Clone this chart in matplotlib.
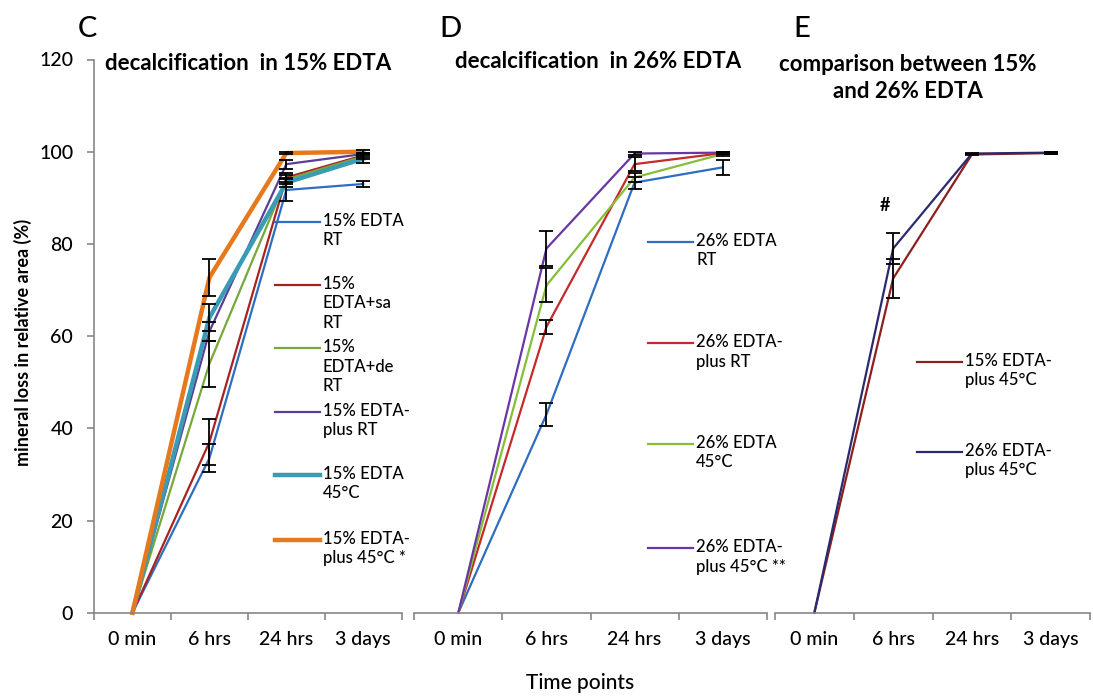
import matplotlib
matplotlib.use("Agg")
import matplotlib.pyplot as plt
from matplotlib.lines import Line2D

plt.rcParams['font.family'] = ['Lato', 'DejaVu Sans']
plt.rcParams['font.weight'] = 'medium'

# ---------------- data ----------------
time_points = ["0 min", "6 hrs", "24 hrs", "3 days"]
y_ticks = [0, 20, 40, 60, 80, 100, 120]

# Panel C: decalcification in 15% EDTA
c_labels = ["15% EDTA\nRT", "15%\nEDTA+sa\nRT", "15%\nEDTA+de\nRT",
            "15% EDTA-\nplus RT", "15% EDTA\n45°C", "15% EDTA-\nplus 45°C *"]
c_rt = [0, 33.5, 91.7, 93.0]
c_rt_err = [0, 3.0, 2.3, 0.7]
c_sa = [0, 37.0, 94.4, 99.2]
c_sa_err = [0, 5.0, 1.0, 0.4]
c_de = [0, 54.0, 94.0, 99.0]
c_de_err = [0, 5.0, 1.0, 0.5]
c_plus_rt = [0, 61.0, 97.3, 99.5]
c_plus_rt_err = [0, 2.0, 1.0, 0.3]
c_45 = [0, 64.0, 93.3, 98.5]
c_45_err = [0, 3.0, 1.0, 1.0]
c_plus_45 = [0, 72.7, 99.7, 100.0]
c_plus_45_err = [0, 4.0, 0.3, 0.3]

# Panel D: decalcification in 26% EDTA
d_labels = ["26% EDTA\nRT", "26% EDTA-\nplus RT", "26% EDTA\n45°C", "26% EDTA-\nplus 45°C **"]
d_rt = [0, 43.0, 93.3, 96.6]
d_rt_err = [0, 2.5, 1.3, 1.6]
d_plus_rt = [0, 62.0, 97.3, 99.7]
d_plus_rt_err = [0, 1.5, 1.5, 0.3]
d_45 = [0, 71.0, 94.4, 99.5]
d_45_err = [0, 3.7, 1.0, 0.5]
d_plus_45 = [0, 79.0, 99.6, 99.8]
d_plus_45_err = [0, 3.8, 0.3, 0.2]

# Panel E: comparison between 15% and 26% EDTA
e_labels = ["15% EDTA-\nplus 45°C", "26% EDTA-\nplus 45°C"]
e_15 = [0, 72.5, 99.4, 99.7]
e_15_err = [0, 4.2, 0.2, 0.2]
e_26 = [0, 79.0, 99.6, 99.8]
e_26_err = [0, 3.4, 0.2, 0.2]

# ---------------- figure ----------------
W, H = 1093, 697
fig = plt.figure(figsize=(W / 100, H / 100), dpi=100)
AX_COL = '#868686'
FONT = 14


def fx(px):
    return px / W


def fy(py):
    return 1 - py / H


def make_axes(x0, x1, show_y):
    ytop, ybot = 59.5, 612.7
    ax = fig.add_axes([fx(x0), fy(ybot), fx(x1 - x0), (ybot - ytop) / H])
    ax.set_xlim(-0.5, 3.5)
    ax.set_ylim(0, 120)
    for s in ['top', 'right']:
        ax.spines[s].set_visible(False)
    ax.spines['bottom'].set_color(AX_COL)
    ax.spines['bottom'].set_linewidth(1.2)
    ax.set_xticks([-0.5, 0.5, 1.5, 2.5, 3.5])
    ax.set_xticklabels([])
    ax.tick_params(axis='x', which='major', length=5, width=1.2, color=AX_COL, direction='out')
    ax.set_xticks(range(len(time_points)), minor=True)
    ax.set_xticklabels(time_points, minor=True)
    ax.tick_params(axis='x', which='minor', length=0, pad=13, labelsize=FONT)
    if show_y:
        ax.spines['left'].set_color(AX_COL)
        ax.spines['left'].set_linewidth(1.2)
        ax.set_yticks(y_ticks)
        ax.tick_params(axis='y', length=5, width=1.2, color=AX_COL, direction='out',
                       labelsize=FONT, pad=10)
    else:
        ax.spines['left'].set_visible(False)
        ax.set_yticks([])
    ax.patch.set_alpha(0)
    return ax


def series(ax, y, err, color, lw):
    x = list(range(len(y)))
    ax.plot(x, y, color=color, lw=lw, solid_joinstyle='miter', zorder=2, clip_on=False)
    xe = [i for i in x if err[i] > 0]
    ax.errorbar(xe, [y[i] for i in xe], yerr=[err[i] for i in xe], fmt='none',
                ecolor='black', elinewidth=1.3, capsize=5, capthick=1.3, zorder=3)


def legend_entry(x_line0, x_line1, y_px, text, color, lw):
    fig.add_artist(Line2D([fx(x_line0), fx(x_line1)], [fy(y_px), fy(y_px)],
                          color=color, lw=lw, transform=fig.transFigure))
    fig.text(fx(x_line1 + 3), fy(y_px - 9), text, ha='left', va='top',
             fontsize=12, linespacing=1.25)


# Panel C
axC = make_axes(94, 401.7, True)
c_series = [(c_rt, c_rt_err, '#2E6EC0', 1.6),
            (c_sa, c_sa_err, '#A82320', 1.6),
            (c_de, c_de_err, '#77A83A', 1.6),
            (c_plus_rt, c_plus_rt_err, '#5B3D96', 1.6),
            (c_45, c_45_err, '#3A9BB5', 3.2),
            (c_plus_45, c_plus_45_err, '#E6791E', 3.2)]
for y, e, col, lw in c_series:
    series(axC, y, e, col, lw)
c_leg_y = [221.7, 285, 348.3, 411.7, 475, 540]
for (y, e, col, lw), lab, yy in zip(c_series, c_labels, c_leg_y):
    legend_entry(275, 320, yy, lab, col, lw)

# Panel D
axD = make_axes(414.3, 766.7, False)
d_series = [(d_rt, d_rt_err, '#2E6EC0', 1.6),
            (d_plus_rt, d_plus_rt_err, '#C42A2A', 1.6),
            (d_45, d_45_err, '#86BE3A', 1.6),
            (d_plus_45, d_plus_45_err, '#6A35A6', 1.6)]
for y, e, col, lw in d_series:
    series(axD, y, e, col, lw)
d_leg_y = [241.7, 343.3, 444, 548.3]
for (y, e, col, lw), lab, yy in zip(d_series, d_labels, d_leg_y):
    legend_entry(648, 693, yy, lab, col, lw)

# Panel E
axE = make_axes(775, 1090, False)
e_series = [(e_15, e_15_err, '#8E1F1F', 1.6),
            (e_26, e_26_err, '#2C2A6E', 1.6)]
for y, e, col, lw in e_series:
    series(axE, y, e, col, lw)
e_leg_y = [361.7, 451.7]
for (y, e, col, lw), lab, yy in zip(e_series, e_labels, e_leg_y):
    legend_entry(917, 962, yy, lab, col, lw)

# Titles / annotations
fig.text(fx(87), fy(29), "C", fontsize=21, ha='center', va='center')
fig.text(fx(451), fy(29), "D", fontsize=21, ha='center', va='center')
fig.text(fx(802), fy(29), "E", fontsize=21, ha='center', va='center')
fig.text(fx(105), fy(63), "decalcification  in 15% EDTA", fontsize=16, fontweight='bold',
         ha='left', va='center')
fig.text(fx(455), fy(62), "decalcification  in 26% EDTA", fontsize=16, fontweight='bold',
         ha='left', va='center')
fig.text(fx(908), fy(78), "comparison between 15%\nand 26% EDTA", fontsize=16, fontweight='bold',
         ha='center', va='center', linespacing=1.3)
fig.text(fx(885), fy(205), "#", fontsize=13, fontweight='bold', ha='center', va='center')

fig.text(fx(23), fy(342), "mineral loss in relative area (%)", fontsize=13, fontweight='bold',
         rotation=90, ha='center', va='center')
fig.text(fx(580), fy(683), "Time points", fontsize=15, ha='center', va='center')

fig.savefig("out.png", dpi=100)
